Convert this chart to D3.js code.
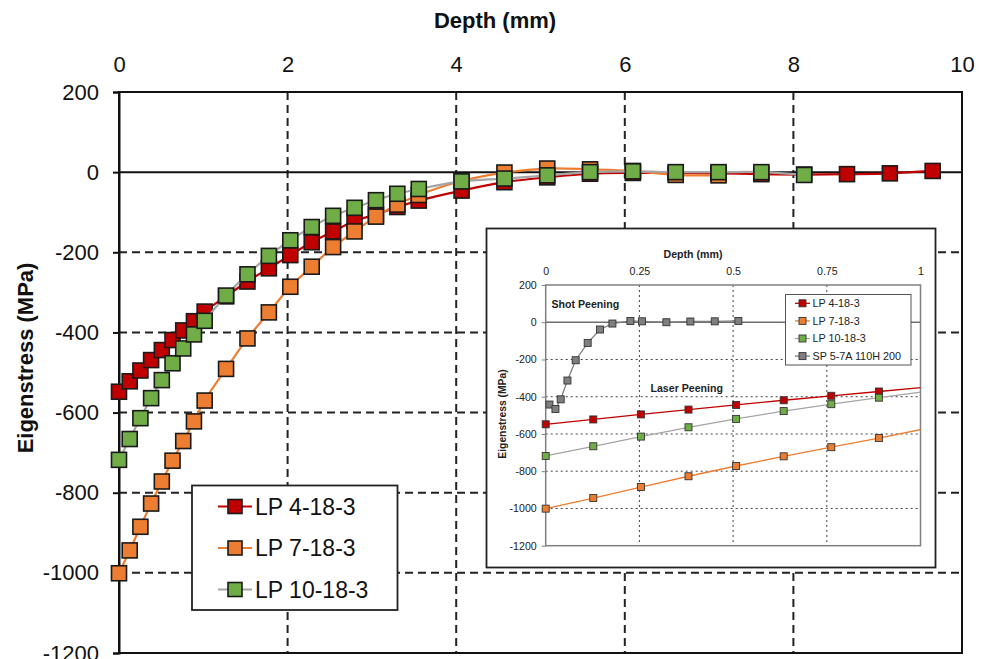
<!DOCTYPE html>
<html><head><meta charset="utf-8">
<script src="https://cdn.jsdelivr.net/npm/d3@7"></script>
<style>
html,body{margin:0;padding:0;background:#fff;}
svg{display:block;font-family:"Liberation Sans",Arial,sans-serif;}
</style></head>
<body>
<svg id="chart" width="989" height="659"></svg>
<script>
// ---------- data ----------
const depth = [0, 0.127, 0.254, 0.381, 0.508, 0.635, 0.762, 0.889, 1.016, 1.27, 1.524, 1.778, 2.032, 2.286, 2.54, 2.794, 3.048, 3.302, 3.556, 4.064, 4.572, 5.08, 5.588, 6.096, 6.604, 7.112, 7.62, 8.128, 8.636, 9.144, 9.652];
const lp4 = [-548, -522, -495, -469, -444, -419, -395, -372, -348, -310, -273, -240, -207, -175, -148, -122, -106, -87, -71, -46, -25, -13, -4, -2, -2, -3, -5, -6, -5, -3, 3];
const lp7 = [-1001, -944, -885, -827, -772, -720, -671, -622, -570, -491, -415, -350, -286, -236, -187, -148, -111, -81, -57, -22, -1, 9, 7, 3, -7, -8];
const lp10 = [-718, -666, -614, -564, -519, -477, -440, -405, -371, -308, -255, -209, -170, -137, -109, -89, -70, -54, -42, -23, -16, -8, 0, 2, 0, 0, 0, -7];
const spDepth = [0.01, 0.026, 0.040, 0.058, 0.080, 0.112, 0.145, 0.178, 0.226, 0.257, 0.322, 0.386, 0.451, 0.514];
const spStress = [-442, -466, -414, -313, -204, -111, -39, -7, 7, 5, 0, 4, 5, 7];

const seriesNames = ["LP 4-18-3", "LP 7-18-3", "LP 10-18-3"];
const insetSeriesNames = ["LP 4-18-3", "LP 7-18-3", "LP 10-18-3", "SP 5-7A 110H 200"];
const xTicks = [0, 2, 4, 6, 8, 10];
const yTicks = [200, 0, -200, -400, -600, -800, -1000, -1200];
const insetXTicks = [0, 0.25, 0.5, 0.75, 1];
const insetXLabels = ["0", "0.25", "0.5", "0.75", "1"];

// ---------- styles ----------
const fills = ["#C00000", "#ED7D31", "#70AD47", "#7F7F7F"];
const lineCols = ["#C00000", "#ED7D31", "#A5A5A5", "#7F7F7F"];

const svg = d3.select("#chart");

const series = [lp4, lp7, lp10].map((vals, i) => ({
  name: seriesNames[i], i,
  pts: vals.map((v, k) => ({x: depth[k], y: v}))
}));

// ---------- main chart ----------
const x = d3.scaleLinear().domain([0, 10]).range([119, 962]);
const y = d3.scaleLinear().domain([-1200, 200]).range([653, 92]);

const grid = svg.append("g");
grid.selectAll("line.vg").data([2, 4, 6, 8]).join("line")
  .attr("x1", d => x(d)).attr("x2", d => x(d)).attr("y1", y(200)).attr("y2", y(-1200))
  .attr("stroke", "#222").attr("stroke-width", 2).attr("stroke-dasharray", "8,5");
grid.selectAll("line.hg").data([-200, -400, -600, -800, -1000]).join("line")
  .attr("x1", x(0)).attr("x2", x(10)).attr("y1", d => y(d)).attr("y2", d => y(d))
  .attr("stroke", "#222").attr("stroke-width", 2).attr("stroke-dasharray", "8,5");

// frame
svg.append("rect").attr("x", x(0)).attr("y", y(200)).attr("width", x(10) - x(0)).attr("height", y(-1200) - y(200))
  .attr("fill", "none").attr("stroke", "#111").attr("stroke-width", 2);
svg.append("line").attr("x1", x(0)).attr("x2", x(10)).attr("y1", y(0)).attr("y2", y(0))
  .attr("stroke", "#111").attr("stroke-width", 2);

// y axis
const yAxis = d3.axisLeft(y).tickValues(yTicks).tickSize(6).tickPadding(14).tickFormat(d3.format("d"));
const ya = svg.append("g").attr("transform", `translate(${x(0)},0)`).call(yAxis);
ya.select(".domain").attr("stroke", "#111").attr("stroke-width", 2);
ya.selectAll(".tick line").attr("stroke", "#111").attr("stroke-width", 2);
ya.selectAll(".tick text").attr("font-size", 22).attr("fill", "#111")
  .attr("font-family", "'Liberation Sans',Arial,sans-serif").text(d => d < 0 ? "-" + Math.abs(d) : d);

// x axis (top)
const xAxis = d3.axisTop(x).tickValues(xTicks).tickSize(0).tickPadding(20).tickFormat(d3.format("d"));
const xa = svg.append("g").attr("transform", `translate(0,${y(200)})`).call(xAxis);
xa.select(".domain").remove();
xa.selectAll(".tick text").attr("font-size", 22).attr("fill", "#111")
  .attr("font-family", "'Liberation Sans',Arial,sans-serif");

svg.append("text").attr("x", 495).attr("y", 28).attr("text-anchor", "middle")
  .attr("font-size", 22).attr("font-weight", "bold").attr("fill", "#111").text("Depth (mm)");
svg.append("text").attr("transform", "translate(33,358) rotate(-90)").attr("text-anchor", "middle")
  .attr("font-size", 22).attr("font-weight", "bold").attr("fill", "#111").text("Eigenstress (MPa)");

// series
const lineGen = d3.line().x(d => x(d.x)).y(d => y(d.y)).curve(d3.curveCatmullRom);
const MS = 15;
series.forEach(s => {
  const g = svg.append("g");
  g.append("path").attr("d", lineGen(s.pts)).attr("fill", "none")
    .attr("stroke", lineCols[s.i]).attr("stroke-width", 2.2);
  g.selectAll("rect").data(s.pts).join("rect")
    .attr("x", d => x(d.x) - MS / 2).attr("y", d => y(d.y) - MS / 2)
    .attr("width", MS).attr("height", MS)
    .attr("fill", fills[s.i]).attr("stroke", "#1a1a1a").attr("stroke-width", 1.6);
});

// ---------- inset ----------
const ix = d3.scaleLinear().domain([0, 1]).range([545.7, 920.5]);
const iy = d3.scaleLinear().domain([-1200, 200]).range([545.7, 285]);

svg.append("rect").attr("x", 486.5).attr("y", 228.5).attr("width", 449).attr("height", 339)
  .attr("fill", "#fff").attr("stroke", "#222").attr("stroke-width", 1.8);

const ig = svg.append("g");
ig.selectAll("line.ivg").data([0.25, 0.5, 0.75]).join("line")
  .attr("x1", d => ix(d)).attr("x2", d => ix(d)).attr("y1", iy(200)).attr("y2", iy(-1200))
  .attr("stroke", "#444").attr("stroke-width", 1).attr("stroke-dasharray", "2,3");
ig.selectAll("line.ihg").data([-200, -400, -600, -800, -1000]).join("line")
  .attr("x1", ix(0)).attr("x2", ix(1)).attr("y1", d => iy(d)).attr("y2", d => iy(d))
  .attr("stroke", "#444").attr("stroke-width", 1).attr("stroke-dasharray", "2,3");
ig.append("rect").attr("x", ix(0)).attr("y", iy(200)).attr("width", ix(1) - ix(0)).attr("height", iy(-1200) - iy(200))
  .attr("fill", "none").attr("stroke", "#808080").attr("stroke-width", 1.5);
ig.append("line").attr("x1", ix(0)).attr("x2", ix(1)).attr("y1", iy(0)).attr("y2", iy(0))
  .attr("stroke", "#707070").attr("stroke-width", 1.5);

const iyAxis = d3.axisLeft(iy).tickValues(yTicks).tickSize(4).tickPadding(5);
const iya = ig.append("g").attr("transform", `translate(${ix(0)},0)`).call(iyAxis);
iya.select(".domain").remove();
iya.selectAll(".tick line").attr("stroke", "#808080");
iya.selectAll(".tick text").attr("font-size", 10.6).attr("fill", "#222")
  .attr("font-family", "'Liberation Sans',Arial,sans-serif").text(d => d < 0 ? "-" + Math.abs(d) : d);

const ixAxis = d3.axisTop(ix).tickValues(insetXTicks).tickSize(0).tickPadding(10).tickFormat((d, k) => insetXLabels[k]);
const ixa = ig.append("g").attr("transform", `translate(0,${iy(200)})`).call(ixAxis);
ixa.select(".domain").remove();
ixa.selectAll(".tick text").attr("font-size", 10.6).attr("fill", "#222")
  .attr("font-family", "'Liberation Sans',Arial,sans-serif");

ig.append("text").attr("x", 693).attr("y", 258).attr("text-anchor", "middle")
  .attr("font-size", 10.6).attr("font-weight", "bold").attr("fill", "#222").text("Depth (mm)");
ig.append("text").attr("transform", "translate(506,414) rotate(-90)").attr("text-anchor", "middle")
  .attr("font-size", 10.3).attr("font-weight", "bold").attr("fill", "#222").text("Eigenstress (MPa)");
ig.append("text").attr("x", 551.5).attr("y", 308).attr("font-size", 10.6).attr("font-weight", "bold")
  .attr("fill", "#222").text("Shot Peening");
ig.append("text").attr("x", 650.5).attr("y", 392).attr("font-size", 10.6).attr("font-weight", "bold")
  .attr("fill", "#222").text("Laser Peening");

svg.append("clipPath").attr("id", "iclip").append("rect")
  .attr("x", ix(0)).attr("y", iy(200)).attr("width", ix(1) - ix(0)).attr("height", iy(-1200) - iy(200));

const insetSeries = series.map(s => ({i: s.i, pts: s.pts.filter(p => p.x <= 1.1)}));
insetSeries.push({i: 3, pts: spDepth.map((d, k) => ({x: d, y: spStress[k]}))});
const iline = d3.line().x(d => ix(d.x)).y(d => iy(d.y));
const IMS = 7;
insetSeries.forEach(s => {
  const g = ig.append("g");
  g.append("path").attr("d", iline(s.pts)).attr("fill", "none").attr("clip-path", "url(#iclip)")
    .attr("stroke", lineCols[s.i]).attr("stroke-width", 1.3);
  g.selectAll("rect").data(s.pts.filter(p => p.x <= 1)).join("rect")
    .attr("x", d => ix(d.x) - IMS / 2).attr("y", d => iy(d.y) - IMS / 2)
    .attr("width", IMS).attr("height", IMS)
    .attr("fill", fills[s.i]).attr("stroke", "#333").attr("stroke-width", 0.9);
});

// inset legend
const il = ig.append("g");
il.append("rect").attr("x", 785.5).attr("y", 294.5).attr("width", 125.5).attr("height", 70.5)
  .attr("fill", "#fff").attr("stroke", "#555").attr("stroke-width", 1);
insetSeriesNames.forEach((n, k) => {
  const yy = 303.3 + k * 17.6;
  il.append("line").attr("x1", 795).attr("x2", 810).attr("y1", yy).attr("y2", yy)
    .attr("stroke", lineCols[k]).attr("stroke-width", 1.3);
  il.append("rect").attr("x", 802.5 - IMS / 2).attr("y", yy - IMS / 2).attr("width", IMS).attr("height", IMS)
    .attr("fill", fills[k]).attr("stroke", "#333").attr("stroke-width", 0.9);
  il.append("text").attr("x", 812.5).attr("y", yy).attr("dy", "0.36em").attr("font-size", 10.8)
    .attr("fill", "#222").text(n);
});

// ---------- main legend ----------
const lg = svg.append("g");
lg.append("rect").attr("x", 192).attr("y", 485.5).attr("width", 205.5).attr("height", 124.5)
  .attr("fill", "#fff").attr("stroke", "#222").attr("stroke-width", 1.8);
seriesNames.forEach((n, k) => {
  const yy = 506.5 + k * 41.5;
  lg.append("line").attr("x1", 218).attr("x2", 252).attr("y1", yy).attr("y2", yy)
    .attr("stroke", lineCols[k]).attr("stroke-width", 2.2);
  lg.append("rect").attr("x", 235 - 7).attr("y", yy - 7).attr("width", 14).attr("height", 14)
    .attr("fill", fills[k]).attr("stroke", "#1a1a1a").attr("stroke-width", 1.6);
  lg.append("text").attr("x", 255).attr("y", yy).attr("dy", "0.36em").attr("font-size", 23)
    .attr("fill", "#111").text(n);
});
</script>
</body></html>
